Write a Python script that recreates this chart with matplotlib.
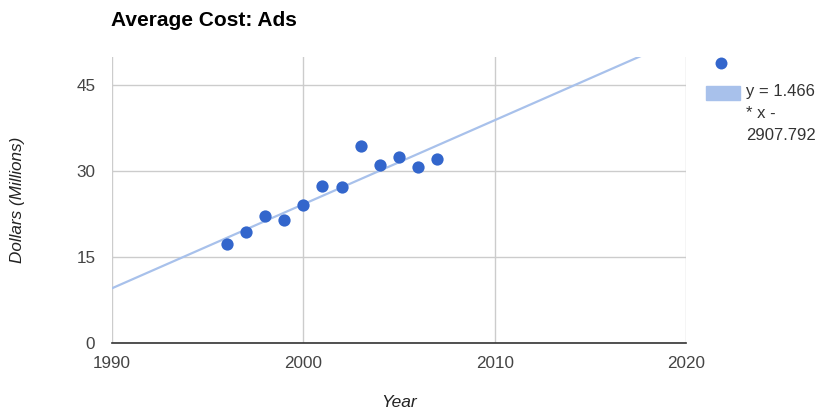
import numpy as np
import matplotlib.pyplot as plt
from matplotlib.patches import Rectangle
from matplotlib.lines import Line2D

plt.rcParams['font.family'] = ['Liberation Sans', 'DejaVu Sans']

# data
years = [1996, 1997, 1998, 1999, 2000, 2001, 2002, 2003, 2004, 2005, 2006, 2007]
cost = [17.3, 19.4, 22.2, 21.5, 24.1, 27.4, 27.2, 34.4, 31.0, 32.4, 30.7, 32.1]
slope = 1.466
intercept = -2907.792
x_ticks = [1990, 2000, 2010, 2020]
y_ticks = [0, 15, 30, 45]

dot_color = '#3366cc'
trend_color = '#a8c1eb'
grid_color = '#cccccc'
text_color = '#444444'

fig = plt.figure(figsize=(8.22, 4.15), dpi=100)
ax = fig.add_axes([112/822, 1 - 343/415, (686 - 112)/822, (343 - 57)/415])

ax.set_xlim(1990, 2020)
ax.set_ylim(0, 49.9)

# trendline across the whole axis
tx = np.array([1990, 2020])
ax.plot(tx, slope*tx + intercept, color=trend_color, lw=1.6, zorder=2)

ax.scatter(years, cost, s=78, color=dot_color, zorder=3, linewidths=0)

ax.set_xticks(x_ticks)
ax.set_yticks(y_ticks)
ax.grid(True, color=grid_color, lw=1)
ax.set_axisbelow(True)
for s in ['top', 'right', 'left']:
    ax.spines[s].set_visible(False)
ax.spines['bottom'].set_color('#333333')
ax.spines['bottom'].set_linewidth(1.2)
ax.tick_params(length=0, labelsize=12.3, colors=text_color)
ax.tick_params(axis='x', pad=9)
ax.tick_params(axis='y', pad=12)

ax.set_xlabel('Year', fontsize=12.5, style='italic', color='#222222')
ax.set_ylabel('Dollars (Millions)', fontsize=12.3, style='italic', color='#222222')
ax.xaxis.set_label_coords(0.5, (343 - 402)/286)
ax.yaxis.set_label_coords((18 - 112)/574, 0.5)
ax.xaxis.label.set_va('center')
ax.yaxis.label.set_va('center')

fig.text(111/822, 1 - 20/415, 'Average Cost: Ads', fontsize=15, fontweight='bold',
         va='center', ha='left', color='#000000')

# legend
fig.add_artist(Line2D([721/822], [1 - 63/415], marker='o', markersize=8.6,
                      color=dot_color, markeredgewidth=0, transform=fig.transFigure))
fig.add_artist(Rectangle((706/822, 1 - 100/415), 34/822, 14/415,
                         color=trend_color, transform=fig.transFigure))
fig.text(746/822, 1 - 84/415, 'y = 1.466\n* x -\n2907.792', fontsize=12,
         va='top', ha='left', color='#333333', linespacing=1.6)

fig.savefig('out.png', dpi=100)
